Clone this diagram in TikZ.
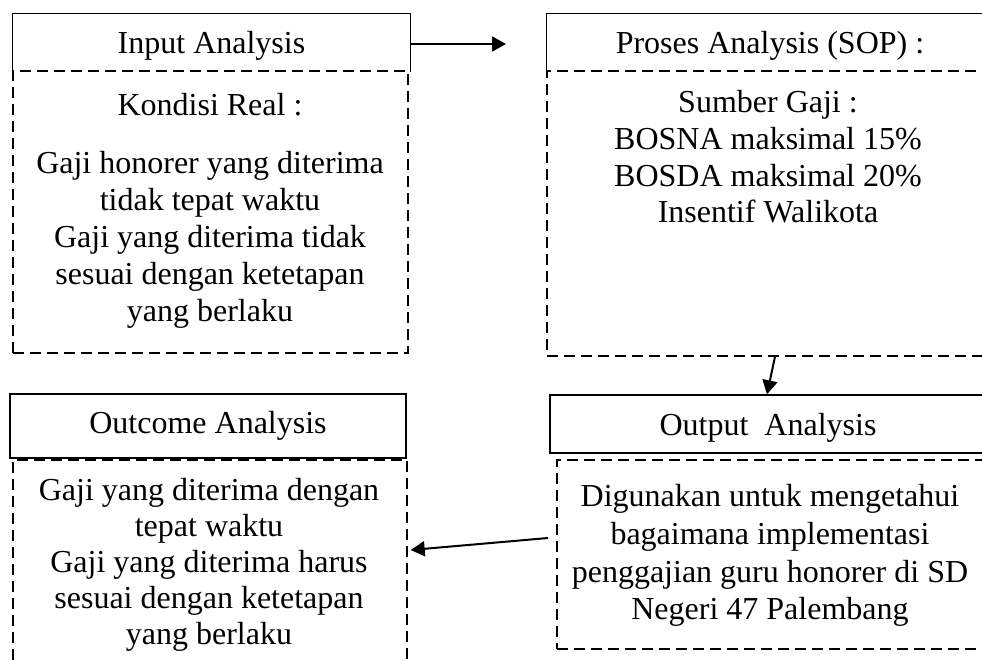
\documentclass[tikz,border=0pt]{standalone}
\usepackage{fontspec}
\setmainfont{Liberation Serif}
\usetikzlibrary{arrows.meta}
\begin{document}
\begin{tikzpicture}[x=0.5pt,y=-0.5pt,
  txt/.style={font=\fontsize{16pt}{18.5pt}\selectfont, align=center, inner sep=0pt},
  hdr/.style={font=\fontsize{16pt}{19pt}\selectfont, inner sep=0pt, line width=0.7pt, text height=11pt, text depth=0pt},
  solidbox/.style={hdr, draw},
  dashbox/.style={draw, line width=0.7pt, dash pattern=on 5.5pt off 3pt, inner sep=0pt},
  arr/.style={line width=1pt, -{Triangle[length=7pt,width=7.5pt]}}
]
\useasboundingbox (0,0) rectangle (982,660);

% Input Analysis
\node[dashbox, minimum width=197.5pt, minimum height=141pt] (inbody) at (210.5,212) {};
\node[hdr, minimum width=198.5pt, minimum height=28.5pt] (inhdr) at (211.5,42.5) {Input Analysis};
\draw[line width=0.7pt] (inhdr.south west) -- (inhdr.north west) -- (inhdr.north east) -- (inhdr.south east);
\node[txt] (intext) at (210,210.6) {Kondisi Real :\\[10.5pt]
Gaji honorer yang diterima\\ tidak tepat waktu\\ Gaji yang diterima tidak\\ sesuai dengan ketetapan\\ yang berlaku};

% Proses Analysis
\node[dashbox, minimum width=223pt, minimum height=142.5pt] (prbody) at (770,213.5) {};
\node[hdr, minimum width=223pt, minimum height=28.5pt] (prhdr) at (770,42.5) {Proses Analysis (SOP) :};
\draw[line width=0.7pt] (prhdr.south west) -- (prhdr.north west) -- (prhdr.north east) -- (prhdr.south east);
\node[txt, font=\fontsize{16pt}{18.35pt}\selectfont] (prtext) at (768,157) {Sumber Gaji :\\ BOSNA maksimal 15\%\\ BOSDA maksimal 20\%\\ Insentif Walikota};

% Output Analysis
\node[solidbox, minimum width=218pt, minimum height=29pt] (outhdr) at (768,424) {Output~ Analysis};
\node[dashbox, minimum width=213pt, minimum height=94.5pt] (outbody) at (770,554.5) {};
\node[txt, font=\fontsize{16pt}{18.85pt}\selectfont] (outtext) at (770,555.5) {Digunakan untuk mengetahui\\ bagaimana implementasi\\ penggajian guru honorer di SD\\ Negeri 47 Palembang};

% Outcome Analysis
\node[solidbox, text depth=4pt, minimum width=198pt, minimum height=32pt] (ochdr) at (208,426) {Outcome Analysis};
\node[dashbox, minimum width=197pt, minimum height=115pt] (ocbody) at (210,575) {};
\node[txt, font=\fontsize{16pt}{18pt}\selectfont] (octext) at (209,564.5) {Gaji yang diterima dengan\\ tepat waktu\\ Gaji yang diterima harus\\ sesuai dengan ketetapan\\ yang berlaku};

% Connectors
\coordinate (a1end) at (506,44);
\draw[arr] (inhdr.east |- a1end) -- (a1end);
\draw[arr] ([xshift=2.5pt]prbody.south) -- ([xshift=-0.5pt]outhdr.north);
\coordinate (a3start) at (548,538);
\draw[arr] (a3start) -- ([xshift=1.5pt,yshift=12.5pt]ocbody.east);
\end{tikzpicture}
\end{document}
